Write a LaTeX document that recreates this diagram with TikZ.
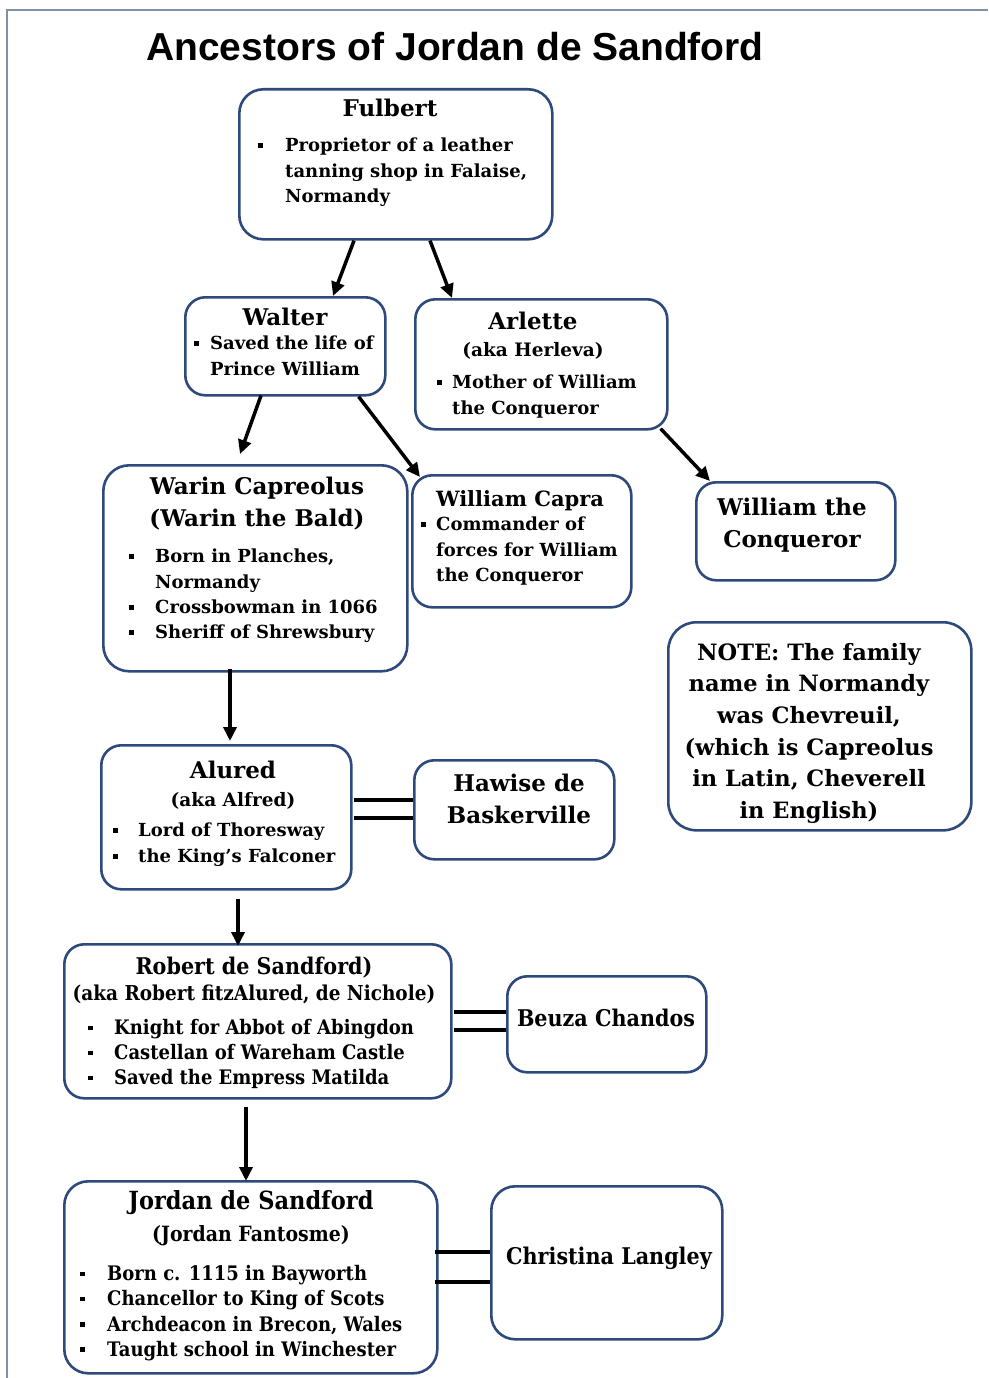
\documentclass[tikz,border=0pt]{standalone}
\usepackage{fontspec}
\setmainfont{DejaVu Serif}
\newfontfamily\condfont{DejaVu Serif}[FakeStretch=0.9]
\newfontfamily\titlefont{Liberation Sans}
\usetikzlibrary{arrows.meta,calc}
\definecolor{boxblue}{HTML}{2E4A7D}
\definecolor{framegrey}{HTML}{8090A8}
\newcommand\fs[2]{\fontsize{#1}{#2}\selectfont}
\newcommand\bx[1]{\makebox[#1][l]{\raisebox{0.22em}{\rule{4.5pt}{4.5pt}}}}
\tikzset{
  box/.style={draw=boxblue, line width=2.6pt, rounded corners=20pt, fill=white, inner sep=0pt, anchor=north west},
  nm/.style={font=\bfseries\fs{23}{31.6}, inner sep=0pt, anchor=base, align=center},
  aka/.style={font=\bfseries\fs{18.5}{22}, inner sep=0pt, anchor=base},
  lst/.style={font=\bfseries\fs{18}{25.3}, inner sep=0pt, anchor=north west, align=left},
  arr/.style={line width=3.5pt, -{Triangle[length=14pt,width=13pt]}},
  dbl/.style={line width=3.5pt},
}
\begin{document}
\begin{tikzpicture}[x=1pt,y=-1pt]
\useasboundingbox (0,0) rectangle (988,1378);
\fill[white] (0,0) rectangle (988,1378);
\draw[framegrey, line width=2pt] (7,1378) -- (7,10) -- (988,10);

% title
\node[inner sep=0pt, anchor=base, font=\titlefont\bfseries\fs{39}{44}] (title) at (455,61) {Ancestors of Jordan de Sandford};

% boxes
\node[box, rounded corners=24pt, minimum width=313pt, minimum height=150pt] (fulbert) at (238,88) {};
\node[box, minimum width=200pt, minimum height=98pt] (walter) at (184,296) {};
\node[box, minimum width=252pt, minimum height=130pt] (arlette) at (414,298) {};
\node[box, rounded corners=26pt, minimum width=304pt, minimum height=206pt] (warin) at (102,464) {};
\node[box, minimum width=219pt, minimum height=132pt] (capra) at (411,474) {};
\node[box, minimum width=199pt, minimum height=98pt] (wtc) at (695,481) {};
\node[box, rounded corners=28pt, minimum width=303pt, minimum height=208pt] (note) at (667,621) {};
\node[box, minimum width=250pt, minimum height=144pt] (alured) at (100,744) {};
\node[box, minimum width=200pt, minimum height=99pt] (hawise) at (413,759) {};
\node[box, minimum width=387pt, minimum height=154pt] (robert) at (63,943) {};
\node[box, minimum width=199pt, minimum height=96pt] (beuza) at (506,975) {};
\node[box, rounded corners=24pt, minimum width=373pt, minimum height=192pt] (jordan) at (63,1180) {};
\node[box, rounded corners=24pt, minimum width=231pt, minimum height=153pt] (christina) at (490,1185) {};

% Fulbert
\node[nm] (fulbert-n) at (390,116.5) {Fulbert};
\node[lst, font=\bfseries\fs{18}{25.5}] (fulbert-l) at (258,137.8)
  {\bx{27pt}Proprietor of a leather\\\hspace*{27pt}tanning shop in Falaise,\\\hspace*{27pt}Normandy};

% Walter
\node[nm] (walter-n) at (285,325.4) {Walter};
\node[lst, font=\bfseries\fs{18}{26}] (walter-l) at (194,336)
  {\bx{16pt}Saved the life of\\\hspace*{16pt}Prince William};

% Arlette
\node[nm] (arlette-n) at (533,329.4) {Arlette};
\node[aka] (arlette-a) at (533,356.5) {(aka Herleva)};
\node[lst, font=\bfseries\fs{18}{26}] (arlette-l) at (437,375)
  {\bx{15pt}Mother of William\\\hspace*{15pt}the Conqueror};

% Warin
\node[nm] (warin-n) at (257,526.4) {Warin Capreolus\\(Warin the Bald)};
\node[lst] (warin-l) at (129,549)
  {\bx{26pt}Born in Planches,\\\hspace*{26pt}Normandy\\\bx{26pt}Crossbowman in 1066\\\bx{26pt}Sheriff of Shrewsbury};

% William Capra
\node[nm, font=\bfseries\fs{21}{26}] (capra-n) at (520,506.5) {William Capra};
\node[lst, font=\bfseries\fs{18}{25.5}] (capra-l) at (421,517)
  {\bx{15pt}Commander of\\\hspace*{15pt}forces for William\\\hspace*{15pt}the Conqueror};

% William the Conqueror
\node[nm] (wtc-n) at (792,547.4) {William the\\Conqueror};

% Note
\node[nm, font=\bfseries\fs{22.5}{31.6}, anchor=north] (note-t) at (809,643)
  {NOTE: The family\\name in Normandy\\was Chevreuil,\\(which is Capreolus\\in Latin, Cheverell\\in English)};

% Alured
\node[nm] (alured-n) at (233,778.4) {Alured};
\node[aka] (alured-a) at (233,806) {(aka Alfred)};
\node[lst, font=\bfseries\fs{18}{26}] (alured-l) at (113,823)
  {\bx{25pt}Lord of Thoresway\\\bx{25pt}the King’s Falconer};

% Hawise
\node[nm] (hawise-n) at (519,823.4) {Hawise de\\Baskerville};

% Robert
\node[nm, font=\condfont\bfseries\fs{23}{28}] (robert-n) at (254,974.4) {Robert de Sandford)};
\node[aka, font=\condfont\bfseries\fs{20.5}{24}] (robert-a) at (254,1000) {(aka Robert fitzAlured, de Nichole)};
\node[lst, font=\condfont\bfseries\fs{20}{25}] (robert-l) at (88,1019)
  {\bx{26pt}Knight for Abbot of Abingdon\\\bx{26pt}Castellan of Wareham Castle\\\bx{26pt}Saved the Empress Matilda};

% Beuza
\node[nm, font=\condfont\bfseries\fs{23}{28}] (beuza-n) at (606,1026.4) {Beuza Chandos};

% Jordan
\node[nm, font=\condfont\bfseries\fs{25}{30}] (jordan-n) at (251,1209) {Jordan de Sandford};
\node[aka, font=\condfont\bfseries\fs{21}{24}] (jordan-a) at (251,1241.5) {(Jordan Fantosme)};
\node[lst, font=\condfont\bfseries\fs{20}{25.3}] (jordan-l) at (80,1265)
  {\bx{27pt}Born c. 1115 in Bayworth\\\bx{27pt}Chancellor to King of Scots\\\bx{27pt}Archdeacon in Brecon, Wales\\\bx{27pt}Taught school in Winchester};

% Christina
\node[nm, font=\condfont\bfseries\fs{23}{28}] (christina-n) at (609,1264.4) {Christina Langley};

% arrows
\draw[arr] ($(fulbert.south west)+(116,0)$) -- ($(walter.north west)+(149,0)$);
\draw[arr] ($(fulbert.south west)+(192,0)$) -- ($(arlette.north west)+(38,0)$);
\draw[arr] ($(walter.south west)+(77,-1)$) -- ($(warin.north west)+(138,-10)$);
\draw[arr] ($(walter.south east)+(-28,0)$) -- ($(capra.north west)+(9,3)$);
\draw[arr] ($(arlette.south east)+(-8,-2)$) -- ($(wtc.north west)+(15,0)$);
\draw[arr] ($(warin.south west)+(128,-4)$) -- ($(alured.north west)+(130,-3)$);
\draw[arr] ($(alured.south west)+(138,8)$) -- ($(robert.north west)+(175,3)$);
\draw[arr] ($(robert.south west)+(183,7)$) -- ($(jordan.north west)+(183,1)$);

% marriage lines
\draw[dbl] ($(alured.north east)+(1,56)$) -- ($(hawise.north west)+(0,41)$);
\draw[dbl] ($(alured.north east)+(1,74)$) -- ($(hawise.north west)+(0,59)$);
\draw[dbl] ($(robert.north east)+(1,69)$) -- ($(beuza.north west)+(0,37)$);
\draw[dbl] ($(robert.north east)+(1,87)$) -- ($(beuza.north west)+(0,55)$);
\draw[dbl] ($(jordan.north east)+(-4,72)$) -- ($(christina.north west)+(0,67)$);
\draw[dbl] ($(jordan.north east)+(-4,102)$) -- ($(christina.north west)+(0,97)$);
\end{tikzpicture}
\end{document}
